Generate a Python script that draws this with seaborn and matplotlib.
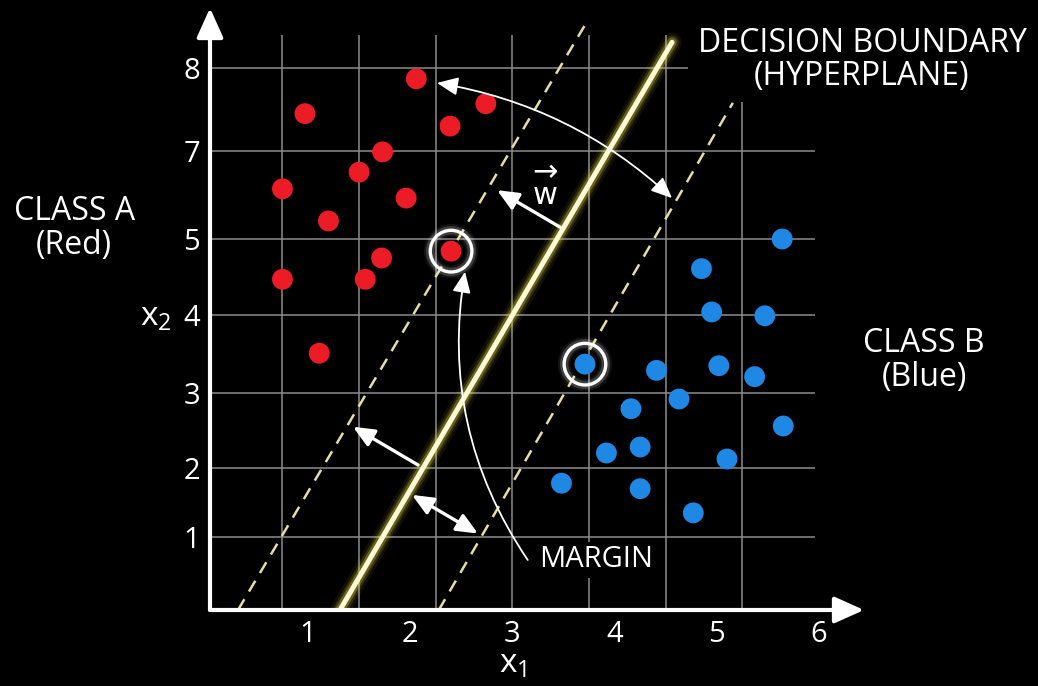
import numpy as np
import pandas as pd
import matplotlib
matplotlib.use("Agg")
import matplotlib.pyplot as plt
import seaborn as sns

# ---------------- data ----------------
red_x = [2.06, 0.97, 2.74, 2.39, 1.73, 1.50, 0.75, 1.96, 1.20, 2.40, 1.72, 0.75, 1.56, 1.11]
red_y = [7.87, 7.45, 7.57, 7.30, 6.98, 6.52, 6.14, 5.93, 5.41, 4.84, 4.75, 4.47, 4.47, 3.51]
blue_x = [5.64, 4.85, 4.95, 5.47, 3.71, 4.41, 5.02, 5.37, 4.63, 4.16, 5.65, 3.92, 4.25, 5.10, 3.48, 4.25, 4.77]
blue_y = [5.00, 4.61, 4.04, 3.99, 3.37, 3.29, 3.35, 3.21, 2.92, 2.79, 2.56, 2.20, 2.28, 2.12, 1.78, 1.70, 1.35]
support_red = 9      # index of the red support vector
support_blue = 4     # index of the blue support vector

x_ticks = [1, 2, 3, 4, 5, 6]
y_ticks = [1, 2, 3, 4, 5, 7, 8]

# hyperplane and margin lines (end points)
boundary_x = [1.313, 4.562]
boundary_y = [-0.058, 8.31]
margin_a_x = [0.315, 3.74]
margin_a_y = [-0.058, 8.58]
margin_b_x = [2.28, 5.157]
margin_b_y = [-0.058, 7.58]

df = pd.DataFrame({
    "x1": red_x + blue_x,
    "x2": red_y + blue_y,
    "cls": ["A"] * len(red_x) + ["B"] * len(blue_x),
})

# ---------------- style ----------------
sns.set_theme(style="dark")
FONT = ["Open Sans", "DejaVu Sans"]
plt.rcParams["font.family"] = FONT
plt.rcParams["mathtext.fontset"] = "custom"
plt.rcParams["mathtext.rm"] = "Open Sans"

BG = "black"
FG = "white"
GRID = "#8c8c8c"
RED = "#ec1c27"
BLUE = "#1f87e4"
LINE = "#fdf9d2"
GLOW = "#e8da4a"
DASH = "#e6dfa0"

W, H = 1038, 686
fig = plt.figure(figsize=(W / 100, H / 100), dpi=100, facecolor=BG)
ax = fig.add_axes([210 / W, 76 / H, 654 / W, 602 / H])
ax.set_facecolor(BG)

# piecewise-linear x2 axis (tick spacing of the drawn grid)
_kv = np.array([-20, 1, 2, 3, 4, 5, 7, 8, 30], dtype=float)
_kh = np.array([-1376, 73, 142, 217, 295, 371, 459, 542, 2368], dtype=float)


def _fwd(v):
    return np.interp(np.asarray(v, dtype=float), _kv, _kh)


def _inv(h):
    return np.interp(np.asarray(h, dtype=float), _kh, _kv)


# ---------------- points ----------------
sns.scatterplot(data=df, x="x1", y="x2", hue="cls",
                palette={"A": RED, "B": BLUE}, s=225, linewidth=0,
                legend=False, ax=ax, zorder=6)

ax.set_yscale("function", functions=(_fwd, _inv))
x_lo, x_hi = (210 - 205.8) / 102.2, (864 - 205.8) / 102.2
y_lo, y_hi = float(_inv(0)), float(_inv(602))
ax.set_xlim(x_lo, x_hi)
ax.set_ylim(y_lo, y_hi)

# ---------------- grid ----------------
grid_x = [0.75, 1.5, 2.25, 3.0, 3.75, 4.5, 5.25]
ax.vlines(grid_x, y_lo, float(_inv(575)), color=GRID, lw=1.1, zorder=1)
ax.hlines(y_ticks, x_lo, 5.96, color=GRID, lw=1.1, zorder=1)

# ---------------- hyperplane and margins ----------------
for lw, a in [(14, 0.07), (10, 0.14), (7, 0.3)]:
    ax.plot(boundary_x, boundary_y, color=GLOW, lw=lw, alpha=a,
            solid_capstyle="round", zorder=3)
ax.plot(boundary_x, boundary_y, color=LINE, lw=3.6, solid_capstyle="round", zorder=4)
for mx, my in [(margin_a_x, margin_a_y), (margin_b_x, margin_b_y)]:
    ax.plot(mx, my, color=DASH, lw=1.8, dashes=(5, 3.6), zorder=3)

# ---------------- support vectors ----------------
sx = [red_x[support_red], blue_x[support_blue]]
sy = [red_y[support_red], blue_y[support_blue]]
for lw, a in [(9, 0.08), (6, 0.18)]:
    ax.scatter(sx, sy, s=900, facecolors="none", edgecolors=FG, linewidths=lw,
               alpha=a, zorder=7)
ax.scatter(sx, sy, s=900, facecolors="none", edgecolors=FG, linewidths=2.4, zorder=8)

# ---------------- annotation arrows ----------------
head = "-|>,head_length=0.8,head_width=0.35"
dhead = "<|-|>,head_length=0.8,head_width=0.35"


def arrow(p_from, p_to, style, lw, rad=0.0):
    ax.annotate("", xy=p_to, xytext=p_from, xycoords="data",
                arrowprops=dict(arrowstyle=style, mutation_scale=16, lw=lw,
                                color=FG, shrinkA=0, shrinkB=0,
                                connectionstyle=f"arc3,rad={rad}"),
                zorder=9)


arrow((2.262, 7.82), (4.562, 5.93), dhead, 1.3, rad=-0.15)   # margin across
arrow((3.466, 5.27), (2.85, 6.11), head, 2.4)                 # normal vector w
arrow((2.077, 2.04), (1.44, 2.55), head, 2.4)                 # half margin
arrow((2.018, 1.61), (2.663, 1.05), dhead, 2.4)               # half margin
arrow((3.15, 0.667), (2.536, 4.57), head, 1.3, rad=-0.2)      # margin label

# weight vector label: arrow over w
ax.text(3.32, 6.25, "\u2192\nw", color=FG, fontsize=22, ha="center",
        va="center", linespacing=0.72, family=["DejaVu Sans"], zorder=9)

ax.text(3.82, 0.667, "MARGIN", color=FG, fontsize=21, ha="center", va="center",
        zorder=9, bbox=dict(boxstyle="square,pad=0.12", fc=BG, ec="none"))

# ---------------- axes with arrow heads ----------------
for sp in ax.spines.values():
    sp.set_visible(False)
axis_style = "-|>,head_length=1.0,head_width=0.45"
for end in [(0, 1), (1, 0)]:
    ax.annotate("", xy=end, xytext=(0, 0), xycoords="axes fraction",
                arrowprops=dict(arrowstyle=axis_style, mutation_scale=18, lw=3,
                                color=FG, shrinkA=0, shrinkB=0),
                annotation_clip=False, zorder=10)

ax.set_xticks(x_ticks)
ax.set_xticklabels([str(t) for t in x_ticks])
ax.set_yticks(y_ticks)
ax.set_yticklabels([str(t) for t in y_ticks])
ax.minorticks_off()
ax.tick_params(axis="both", length=0, labelsize=21, colors=FG)
ax.tick_params(axis="x", pad=7)
ax.tick_params(axis="y", pad=7)
ax.grid(False)
ax.set_xlabel("")
ax.set_ylabel("")

# ---------------- titles and labels ----------------
def ftext(px, py, s, **kw):
    fig.text(px / W, 1 - py / H, s, color=FG, ha="center", va="center", **kw)


ftext(862, 60, "DECISION BOUNDARY\n(HYPERPLANE)", fontsize=23, linespacing=0.98,
      bbox=dict(boxstyle="square,pad=0.3", fc=BG, ec="none"))
ftext(75, 212, "CLASS A", fontsize=23)
ftext(74, 245, "(Red)", fontsize=23)
ftext(924, 343, "CLASS B", fontsize=23)
ftext(924, 378, "(Blue)", fontsize=23)
ftext(513, 664, r"$\mathregular{x_1}$", fontsize=24)
ftext(156, 317, r"$\mathregular{x_2}$", fontsize=24)

fig.savefig("out.png", dpi=100, facecolor=BG)
